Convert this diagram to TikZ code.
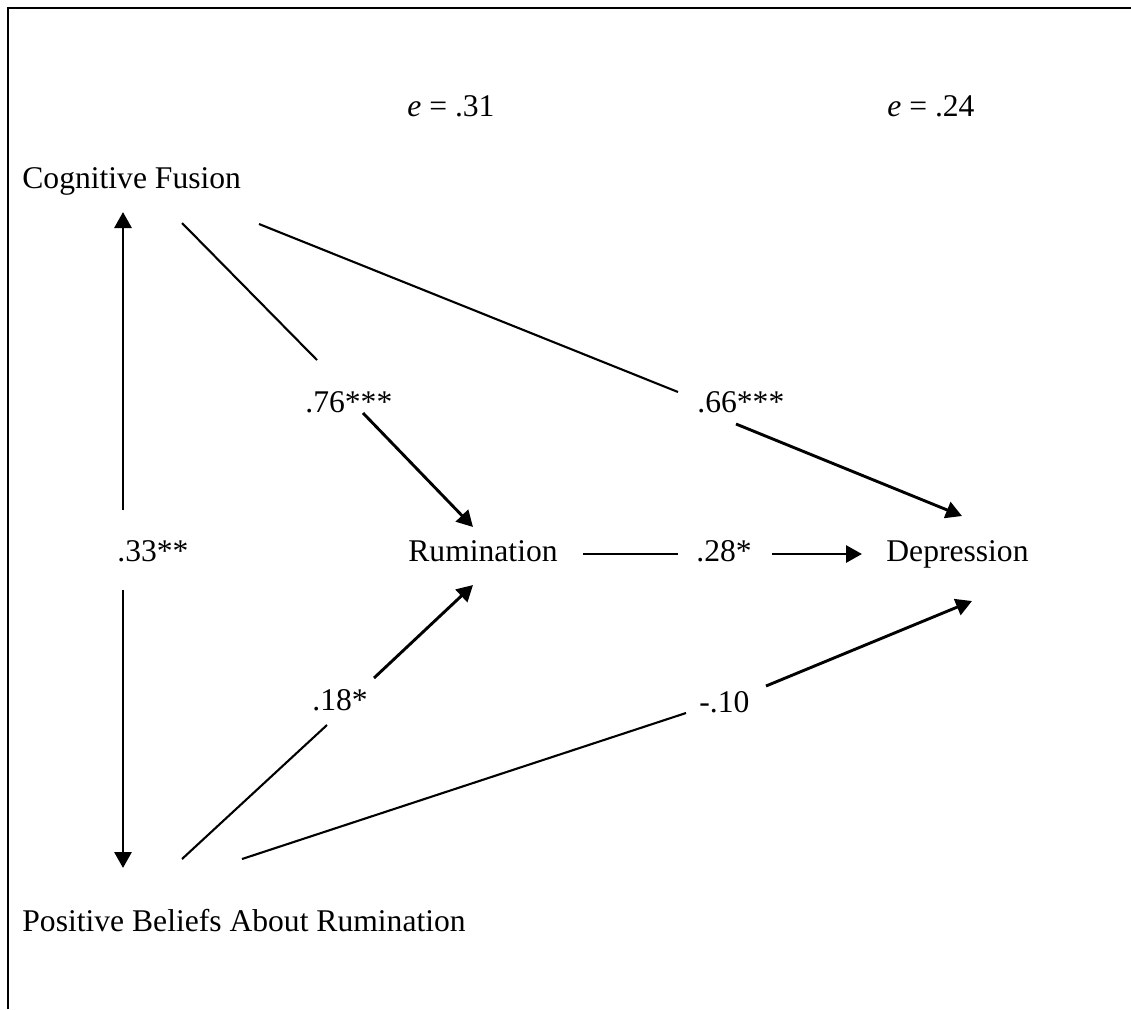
\documentclass[tikz,border=0pt]{standalone}
\usepackage{fontspec}
\setmainfont{Liberation Serif}
\usetikzlibrary{arrows.meta}
\begin{document}
\begin{tikzpicture}[x=0.5pt,y=-0.5pt,
  txt/.style={inner sep=0pt, anchor=base west, font=\fontsize{15.8}{19}\selectfont},
  plain/.style={line width=1.05pt},
  arr/.style={line width=1.45pt, -{Triangle[length=8pt,width=8.5pt]}},
  frame/.style={line width=1.3pt}]
\useasboundingbox (0,0) rectangle (1131,1009);
% frame
\coordinate (fb) at (8,1009);
\coordinate (fc) at (8,8);
\coordinate (fr) at (1131,8);
\draw[frame] (fb) -- (fc) -- (fr);
% variables
\node[txt] (CF)  at (22,188) {Cognitive Fusion};
\node[txt] (PB)  at (22,931) {Positive Beliefs About Rumination};
\node[txt] (Rum) at (408,561) {Rumination};
\node[txt] (Dep) at (886,561) {Depression};
% error terms
\node[txt] (e1) at (407,116) {\textit{e} = .31};
\node[txt] (e2) at (887,116) {\textit{e} = .24};
% coefficients
\node[txt] (l33) at (117,561) {.33**};
\node[txt] (l76) at (305,412) {.76***};
\node[txt] (l66) at (697,412) {.66***};
\node[txt] (l28) at (696,561) {.28*};
\node[txt] (l18) at (312,710) {.18*};
\node[txt] (l10) at (699,712) {-.10};
% connector end points
\coordinate (a1) at (123,510);  \coordinate (a1t) at (123,212);
\coordinate (a2) at (123,590);  \coordinate (a2t) at (123,868);
\coordinate (b1) at (182,223);  \coordinate (b2) at (317,360);
\coordinate (b3) at (363,413);  \coordinate (b4) at (473,527);
\coordinate (c1) at (259,224);  \coordinate (c2) at (678,392);
\coordinate (c3) at (736,424);  \coordinate (c4) at (962,516);
\coordinate (d1) at (583,554);  \coordinate (d2) at (678,554);
\coordinate (d3) at (772,554);  \coordinate (d4) at (862,554);
\coordinate (g1) at (182,859);  \coordinate (g2) at (327,725);
\coordinate (g3) at (374,678);  \coordinate (g4) at (473,585);
\coordinate (h1) at (242,859);  \coordinate (h2) at (686,713);
\coordinate (h3) at (766,686);  \coordinate (h4) at (972,601);
% correlation
\draw[arr] (a1) -- (a1t);
\draw[arr] (a2) -- (a2t);
% CF -> Rumination
\draw[plain] (b1) -- (b2);
\draw[arr] (b3) -- (b4);
% CF -> Depression
\draw[plain] (c1) -- (c2);
\draw[arr] (c3) -- (c4);
% Rumination -> Depression
\draw[plain] (d1) -- (d2);
\draw[arr] (d3) -- (d4);
% PB -> Rumination
\draw[plain] (g1) -- (g2);
\draw[arr] (g3) -- (g4);
% PB -> Depression
\draw[plain] (h1) -- (h2);
\draw[arr] (h3) -- (h4);
\end{tikzpicture}
\end{document}
